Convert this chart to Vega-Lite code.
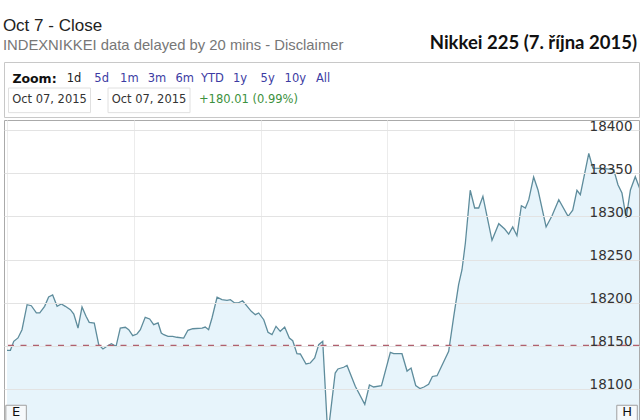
{
  "$schema": "https://vega.github.io/schema/vega-lite/v6.json",
  "padding": {"top": 17, "left": 2, "right": 3, "bottom": 0},
  "autosize": {"type": "pad"},
  "background": "white",
  "spacing": 0,
  "title": {
    "text": "Oct 7 - Close",
    "subtitle": "INDEXNIKKEI data delayed by 20 mins - Disclaimer",
    "anchor": "start",
    "font": "Liberation Sans",
    "fontSize": 17,
    "fontWeight": "normal",
    "color": "#222222",
    "subtitleFont": "Liberation Sans",
    "subtitleFontSize": 14.8,
    "subtitleColor": "#777777",
    "subtitlePadding": 3,
    "offset": -21
  },
  "config": {"view": {"stroke": null}, "concat": {"spacing": 0}},
  "datasets": {
    "series": [
      {"min": 0, "price": 18144.7}, {"min": 1.6, "price": 18144.7}, {"min": 3.2, "price": 18155.1},
      {"min": 5.2, "price": 18159.0}, {"min": 7.1, "price": 18168.6}, {"min": 9.5, "price": 18197.6},
      {"min": 11.5, "price": 18196.4}, {"min": 13.9, "price": 18188.0}, {"min": 15.5, "price": 18188.0},
      {"min": 17.8, "price": 18195.7}, {"min": 19.7, "price": 18206.5}, {"min": 21.6, "price": 18208.9},
      {"min": 23.7, "price": 18195.7}, {"min": 25.7, "price": 18198.4}, {"min": 27.6, "price": 18195.7},
      {"min": 30.0, "price": 18191.8}, {"min": 31.6, "price": 18186.8}, {"min": 33.6, "price": 18170.5},
      {"min": 35.5, "price": 18194.9}, {"min": 37.4, "price": 18184.1}, {"min": 38.9, "price": 18177.1},
      {"min": 41.3, "price": 18176.3}, {"min": 43.4, "price": 18151.2}, {"min": 45.4, "price": 18146.2},
      {"min": 47.3, "price": 18149.3}, {"min": 49.4, "price": 18152.3}, {"min": 51.6, "price": 18149.3},
      {"min": 53.6, "price": 18170.5}, {"min": 56.0, "price": 18171.4}, {"min": 57.6, "price": 18168.6},
      {"min": 59.5, "price": 18161.6}, {"min": 61.5, "price": 18163.6}, {"min": 63.1, "price": 18168.6},
      {"min": 65.4, "price": 18183.0}, {"min": 67.5, "price": 18181.0}, {"min": 69.4, "price": 18174.4},
      {"min": 71.5, "price": 18176.4}, {"min": 73.0, "price": 18164.7}, {"min": 74.2, "price": 18162.8},
      {"min": 76.2, "price": 18160.9}, {"min": 78.4, "price": 18160.9}, {"min": 80.4, "price": 18159.8},
      {"min": 83.6, "price": 18158.9}, {"min": 85.6, "price": 18167.9}, {"min": 87.9, "price": 18169.7},
      {"min": 92.3, "price": 18170.5}, {"min": 93.8, "price": 18171.7}, {"min": 95.4, "price": 18168.6},
      {"min": 97.0, "price": 18182.2}, {"min": 99.4, "price": 18206.2}, {"min": 101.7, "price": 18203.4},
      {"min": 104.1, "price": 18202.7}, {"min": 105.7, "price": 18203.4}, {"min": 107.7, "price": 18199.6},
      {"min": 109.3, "price": 18199.6}, {"min": 111.5, "price": 18202.2}, {"min": 115.6, "price": 18189.9},
      {"min": 117.5, "price": 18186.0}, {"min": 119.1, "price": 18188.0}, {"min": 121.5, "price": 18180.2},
      {"min": 123.5, "price": 18165.6}, {"min": 125.4, "price": 18162.8}, {"min": 127.3, "price": 18172.5},
      {"min": 129.3, "price": 18166.7}, {"min": 131.4, "price": 18171.7}, {"min": 133.6, "price": 18158.9},
      {"min": 135.2, "price": 18155.8}, {"min": 137.2, "price": 18140.7}, {"min": 138.8, "price": 18140.4},
      {"min": 141.5, "price": 18128.8}, {"min": 143.5, "price": 18129.9}, {"min": 145.6, "price": 18135.7},
      {"min": 147.5, "price": 18151.2}, {"min": 149.4, "price": 18155.1}, {"min": 151.8, "price": 18046.0},
      {"min": 155.3, "price": 18118.3}, {"min": 156.6, "price": 18123.0}, {"min": 159.3, "price": 18125.0},
      {"min": 160.9, "price": 18127.0}, {"min": 164.8, "price": 18102.9}, {"min": 169.3, "price": 18082.0},
      {"min": 171.5, "price": 18104.4}, {"min": 173.5, "price": 18102.1}, {"min": 177.2, "price": 18103.6},
      {"min": 181.4, "price": 18142.3}, {"min": 183.0, "price": 18140.7}, {"min": 186.9, "price": 18140.7},
      {"min": 189.3, "price": 18120.6}, {"min": 191.2, "price": 18124.1}, {"min": 193.4, "price": 18103.8},
      {"min": 195.4, "price": 18100.3}, {"min": 197.3, "price": 18102.1}, {"min": 199.5, "price": 18105.2},
      {"min": 201.3, "price": 18114.3}, {"min": 203.5, "price": 18115.2}, {"min": 209.0, "price": 18143.5},
      {"min": 211.4, "price": 18184.1}, {"min": 213.7, "price": 18220.8}, {"min": 215.3, "price": 18238.2},
      {"min": 216.9, "price": 18269.2}, {"min": 219.2, "price": 18330.4}, {"min": 221.3, "price": 18309.8},
      {"min": 223.2, "price": 18309.8}, {"min": 225.2, "price": 18323.4}, {"min": 229.5, "price": 18272.3},
      {"min": 232.7, "price": 18291.6}, {"min": 235.5, "price": 18285.4}, {"min": 237.4, "price": 18279.6},
      {"min": 239.3, "price": 18287.8}, {"min": 241.3, "price": 18277.7}, {"min": 243.4, "price": 18312.5},
      {"min": 245.3, "price": 18309.8}, {"min": 246.9, "price": 18319.5}, {"min": 249.2, "price": 18345.8},
      {"min": 251.3, "price": 18330.4}, {"min": 255.1, "price": 18287.8}, {"min": 257.9, "price": 18300.9},
      {"min": 261.1, "price": 18319.5}, {"min": 265.5, "price": 18300.2}, {"min": 267.7, "price": 18307.2},
      {"min": 269.7, "price": 18330.4}, {"min": 271.3, "price": 18325.3}, {"min": 275.3, "price": 18373.1},
      {"min": 277.2, "price": 18356.2}, {"min": 281.6, "price": 18355.7}, {"min": 287.1, "price": 18354.3},
      {"min": 289.1, "price": 18336.9}, {"min": 291.0, "price": 18327.2}, {"min": 293.0, "price": 18298.2},
      {"min": 295.0, "price": 18330.7}, {"min": 297.3, "price": 18346.1}, {"min": 299.7, "price": 18330.4}
    ]
  },
  "vconcat": [
    {
      "width": 635,
      "height": 55,
      "title": {
        "text": "Nikkei 225 (7. října 2015)",
        "anchor": "end",
        "font": "Lato",
        "fontSize": 18.5,
        "fontWeight": "bold",
        "color": "#111111",
        "offset": 10,
        "dx": -2
      },
      "view": {"stroke": "#c8c8c8", "fill": "white"},
      "resolve": {"scale": {"x": "independent"}},
      "layer": [
        {
          "data": {"values": [{"row": "zoom", "item": "Zoom:"}]},
          "mark": {"type": "text", "font": "DejaVu Sans", "fontSize": 12.5, "fontWeight": "bold", "color": "#111111", "align": "center", "baseline": "middle"},
          "encoding": {
            "x": {"field": "item", "type": "nominal", "scale": {"type": "point", "padding": 0, "range": [0, 61]}, "axis": null},
            "y": {"field": "row", "type": "nominal", "scale": {"type": "point", "domain": ["zoom", "date"], "padding": 0.77}, "axis": null},
            "text": {"field": "item"}
          }
        },
        {
          "data": {"values": [
            {"row": "zoom", "item": "1d"}, {"row": "zoom", "item": "5d"}, {"row": "zoom", "item": "1m"},
            {"row": "zoom", "item": "3m"}, {"row": "zoom", "item": "6m"}, {"row": "zoom", "item": "YTD"},
            {"row": "zoom", "item": "1y"}, {"row": "zoom", "item": "5y"}, {"row": "zoom", "item": "10y"},
            {"row": "zoom", "item": "All"}
          ]},
          "mark": {"type": "text", "font": "DejaVu Sans", "fontSize": 11.5, "align": "center", "baseline": "middle"},
          "encoding": {
            "x": {"field": "item", "type": "nominal", "sort": null, "scale": {"type": "point", "padding": 0, "range": [70, 319]}, "axis": null},
            "y": {"field": "row", "type": "nominal", "axis": null},
            "text": {"field": "item"},
            "color": {"condition": {"test": "datum.item === '1d'", "value": "#222222"}, "value": "#3c3ca3"}
          }
        },
        {
          "data": {"values": [{"row": "date", "slot": "from"}, {"row": "date", "slot": "to"}]},
          "mark": {"type": "point", "shape": "M-1,-0.3H1V0.3H-1Z", "size": 6724, "filled": true, "fill": "white", "stroke": "#e0e0e0", "strokeWidth": 1, "opacity": 1},
          "encoding": {
            "x": {"field": "slot", "type": "nominal", "scale": {"type": "point", "padding": 0, "domain": ["from", "sep", "to", "gap", "change"], "range": [45.5, 244.5]}, "axis": null},
            "y": {"field": "row", "type": "nominal", "axis": null}
          }
        },
        {
          "data": {"values": [
            {"row": "date", "slot": "from", "label": "Oct 07, 2015", "kind": "date"},
            {"row": "date", "slot": "sep", "label": "-", "kind": "sep"},
            {"row": "date", "slot": "to", "label": "Oct 07, 2015", "kind": "date"},
            {"row": "date", "slot": "change", "label": "+180.01 (0.99%)", "kind": "change"}
          ]},
          "mark": {"type": "text", "font": "DejaVu Sans", "fontSize": 11.5, "align": "center", "baseline": "middle"},
          "encoding": {
            "x": {"field": "slot", "type": "nominal", "scale": {"type": "point", "padding": 0, "domain": ["from", "sep", "to", "gap", "change"], "range": [45.5, 244.5]}, "axis": null},
            "y": {"field": "row", "type": "nominal", "axis": null},
            "text": {"field": "label"},
            "color": {"condition": {"test": "datum.kind === 'change'", "value": "#3d9140"}, "value": "#333333"}
          }
        }
      ]
    },
    {
      "width": 635,
      "height": 303,
      "view": {"stroke": "#aaaaaa"},
      "layer": [
        {
          "data": {"name": "series"},
          "mark": {"type": "area", "color": "#e7f4fb", "clip": true, "interpolate": "linear"},
          "encoding": {
            "x": {"field": "min", "type": "quantitative", "scale": {"domain": [-1.42, 299.06], "nice": false, "zero": false},
              "axis": {"values": [0, 60, 120, 180, 240, 300], "labels": false, "ticks": false, "domain": false, "title": null, "grid": true, "gridColor": "#ececec", "gridWidth": 1}},
            "y": {"field": "price", "type": "quantitative", "scale": {"domain": [18060.3, 18411.95], "nice": false, "zero": false},
              "axis": {"orient": "right", "values": [18100, 18150, 18200, 18250, 18300, 18350, 18400], "format": "d", "title": null, "ticks": false, "domain": false,
                "labelAlign": "right", "labelPadding": -7, "labelBaseline": "alphabetic", "labelFont": "DejaVu Sans", "labelFontSize": 13.5, "labelColor": "#333333",
                "grid": true, "gridColor": "#e3e3e3", "gridWidth": 1, "zindex": 1}}
          }
        },
        {
          "data": {"name": "series"},
          "mark": {"type": "line", "color": "#5e8c9c", "strokeWidth": 1.3, "clip": true},
          "encoding": {
            "x": {"field": "min", "type": "quantitative"},
            "y": {"field": "price", "type": "quantitative"}
          }
        },
        {
          "data": {"values": [{"prevClose": 18150.4}]},
          "mark": {"type": "rule", "color": "#b0606e", "strokeDash": [6, 6.5], "strokeWidth": 1.2},
          "encoding": {"y": {"field": "prevClose", "type": "quantitative"}}
        },
        {
          "data": {"values": [{"min": 4.3, "flag": "E"}, {"min": 293.4, "flag": "H"}]},
          "mark": {"type": "point", "shape": "square", "size": 420, "filled": true, "fill": "#f6f9fb", "stroke": "#a0a0a0", "strokeWidth": 1, "opacity": 1, "clip": true},
          "encoding": {
            "x": {"field": "min", "type": "quantitative"},
            "y": {"datum": 18069}
          }
        },
        {
          "data": {"values": [{"min": 4.3, "flag": "E"}, {"min": 293.4, "flag": "H"}]},
          "mark": {"type": "text", "font": "DejaVu Sans", "fontSize": 13, "color": "#111111", "baseline": "middle", "align": "center"},
          "encoding": {
            "x": {"field": "min", "type": "quantitative"},
            "y": {"datum": 18072.5},
            "text": {"field": "flag"}
          }
        }
      ]
    }
  ]
}
